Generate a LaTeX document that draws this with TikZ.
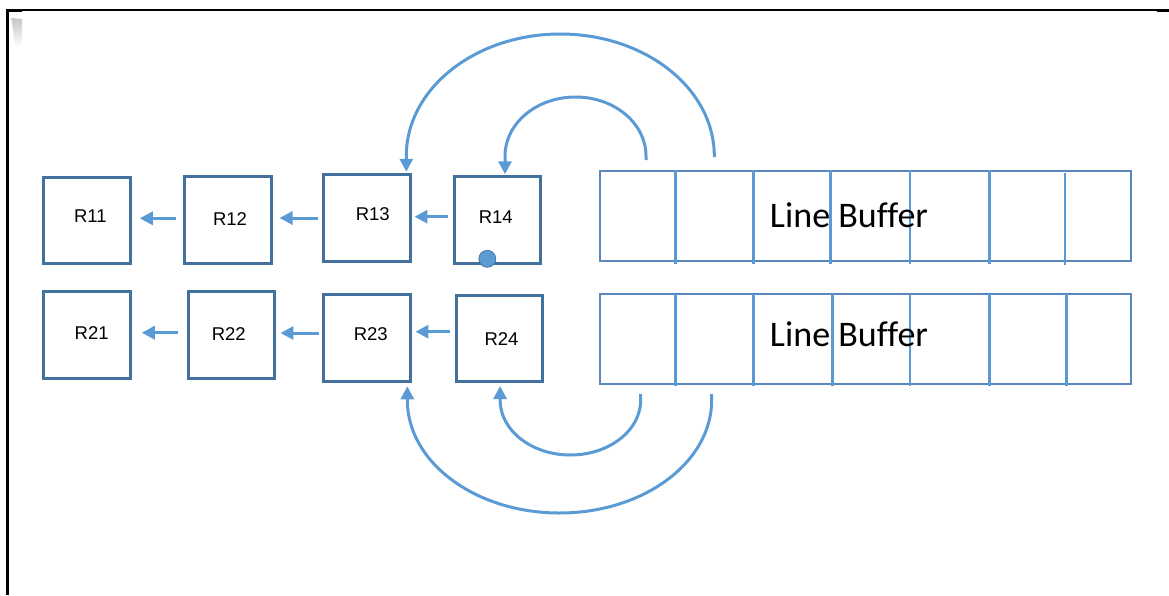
\documentclass[tikz,border=0pt]{standalone}
\usepackage{fontspec}
\setmainfont{Liberation Sans}
\newfontfamily\bufferfont[Ligatures={NoCommon}]{Carlito}
\usetikzlibrary{arrows.meta}
\definecolor{boxblue}{HTML}{41719C}
\definecolor{linkblue}{HTML}{5B9BD5}
\definecolor{bufline}{HTML}{5A86BB}
\tikzset{
  regbox/.style={draw=boxblue, line width=3pt, minimum width=86.5pt, minimum height=86.5pt, inner sep=0pt},
  reglbl/.style={anchor=base, inner sep=0pt, font=\fontsize{18.5}{20}\selectfont},
  buflbl/.style={anchor=base, inner sep=0pt, font=\bufferfont\fontsize{36}{40}\selectfont},
  bufbox/.style={draw=bufline, line width=1.7pt, minimum width=531pt, minimum height=90pt, inner sep=0pt},
  divider/.style={draw=linkblue, line width=2.8pt},
  link/.style={draw=linkblue, line width=3pt, -{Triangle[width=13pt,length=13pt]}},
  dotmark/.style={circle, fill=linkblue, draw=boxblue, line width=0.7pt, minimum size=17pt, inner sep=0pt}
}
\begin{document}
\begin{tikzpicture}[x=1pt,y=-1pt]
\useasboundingbox (0,0) rectangle (1169,595);
% frame
\draw[line width=1.5pt] (7,9.8) -- (1157,9.8);
\fill (6,8.8) rectangle (22,12);
\fill (1157,8.8) rectangle (1169,11.8);
\draw[line width=2.3pt] (7.5,9) -- (7.5,595);
\shade[top color=gray!45, bottom color=white] (11.5,18) -- (22,19) -- (22,47) -- (15,47) -- cycle;

% registers
\node[regbox] (R11) at (87,220.3) {};
\node[regbox] (R12) at (227.8,220) {};
\node[regbox] (R13) at (367.2,218) {};
\node[regbox] (R14) at (497.5,220) {};
\node[regbox] (R21) at (87,335) {};
\node[regbox] (R22) at (231.7,335) {};
\node[regbox] (R23) at (367.2,338) {};
\node[regbox] (R24) at (499.3,338.3) {};
\node[reglbl] (t11) at (90.3,222.3) {R11};
\node[reglbl] (t12) at (230,225) {R12};
\node[reglbl] (t13) at (372.8,220.7) {R13};
\node[reglbl] (t14) at (495.8,223.3) {R14};
\node[reglbl] (t21) at (91.7,339) {R21};
\node[reglbl] (t22) at (228.8,340) {R22};
\node[reglbl] (t23) at (370.8,340) {R23};
\node[reglbl] (t24) at (501.5,345) {R24};
\node[dotmark] (dot) at (487.3,258.8) {};

% shift arrows
\coordinate (a12) at (175.7,218.3);
\coordinate (a13) at (318,218);
\coordinate (a14) at (448.3,216.7);
\coordinate (a22) at (177.7,332.7);
\coordinate (a23) at (319,333);
\coordinate (a24) at (450,331.7);
\draw[link, shorten >=8pt] (a12) -- (a12 -| R11.east);
\draw[link, shorten >=7pt] (a13) -- (a13 -| R12.east);
\draw[link, shorten >=2.5pt] (a14) -- (a14 -| R13.east);
\draw[link, shorten >=10pt] (a22) -- (a22 -| R21.east);
\draw[link, shorten >=4pt] (a23) -- (a23 -| R22.east);
\draw[link, shorten >=3.5pt] (a24) -- (a24 -| R23.east);

% line buffers
\node[bufbox] (B1) at (865.3,215.8) {};
\node[bufbox] (B2) at (865.3,339.2) {};
\foreach \xx in {675.7,753.3,830.7,910,989.3} {\draw[divider] (\xx,170) -- (\xx,263.5);}
\draw[divider] (1065,173) -- (1065,265);
\foreach \xx in {675.7,753.3,832.3,910,989.3,1066.7} {\draw[divider] (\xx,293.5) -- (\xx,386);}
\node[buflbl] (L1) at (849,227.7) {Line Buffer};
\node[buflbl] (L2) at (849,346.7) {Line Buffer};

% feedback arcs
\coordinate (o1s) at (714.3,157);
\coordinate (i1s) at (646,160);
\coordinate (i2s) at (640.7,394);
\coordinate (o2s) at (711.7,394);
\draw[link, shorten >=1.5pt] (o1s) -- ++(0,-1) arc[start angle=0, end angle=180, x radius=154pt, y radius=122pt] coordinate (o1e) -- (o1e |- R13.north);
\draw[link, shorten >=1pt] (i1s) -- ++(0,-4) arc[start angle=0, end angle=180, x radius=70.5pt, y radius=59pt] coordinate (i1e) -- (i1e |- R14.north);
\draw[link, shorten >=3pt] (i2s) -- ++(0,6) arc[start angle=0, end angle=-180, x radius=70.3pt, y radius=55pt] coordinate (i2e) -- (i2e |- R24.south);
\draw[link, shorten >=3.5pt] (o2s) -- ++(0,6) arc[start angle=0, end angle=-180, x radius=152.2pt, y radius=113pt] coordinate (o2e) -- (o2e |- R23.south);
\end{tikzpicture}
\end{document}
